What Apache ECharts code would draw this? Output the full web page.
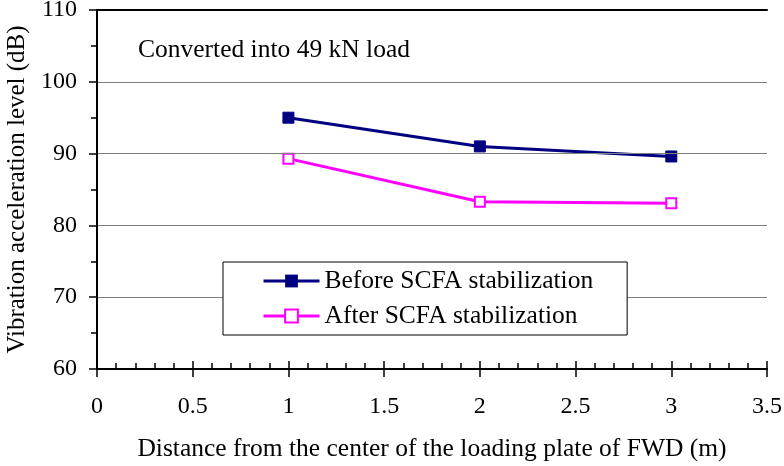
<!DOCTYPE html>
<html>
<head>
<meta charset="utf-8">
<script src="https://cdn.jsdelivr.net/npm/echarts@6/dist/echarts.min.js"></script>
<style>
	html, body { margin: 0; padding: 0; background: #fff; }
	#chart { width: 784px; height: 466px; }
</style>
</head>
<body>
<div id="chart"></div>
<script>
// distance from loading plate centre (m)
const distances = [1, 2, 3];
const beforeLevels = [95.0, 91.0, 89.6];
const afterLevels = [89.3, 83.3, 83.1];
const seriesNames = ['Before SCFA stabilization', 'After SCFA stabilization'];
const xTicks = {min: 0, max: 3.5, interval: 0.5};
const yTicks = {min: 60, max: 110, interval: 10};

const font = '"Liberation Serif", "Times New Roman", serif';
const tickSize = 24;
const textSize = 25.5;

const pairs = vals => distances.map((d, i) => [d, vals[i]]);

const lineOnly = (pos) => ({
	type: 'value', position: pos, ...(pos === 'top' || pos === 'bottom' ? xTicks : yTicks),
	z: 5,
	axisLine: {show: true, lineStyle: {color: '#000', width: 2}},
	axisTick: {show: false}, axisLabel: {show: false}, splitLine: {show: false},
});

const chart = echarts.init(document.getElementById('chart'), null, {renderer: 'canvas'});
chart.setOption({
	animation: false,
	backgroundColor: '#fff',
	textStyle: {fontFamily: font},
	grid: {left: 97, right: 17, top: 10, bottom: 97, containLabel: false, outerBoundsMode: 'none'},
	xAxis: [
		{
			type: 'value', position: 'bottom', ...xTicks,
			z: 4,
			name: 'Distance from the center of the loading plate of FWD (m)',
			nameLocation: 'middle',
			nameGap: 67,
			nameTextStyle: {fontFamily: font, fontSize: textSize, color: '#000'},
			axisLine: {show: true, onZero: false, lineStyle: {color: '#000', width: 2}},
			axisTick: {show: true, inside: false, length: 8, lineStyle: {color: '#000', width: 1.5}},
			axisLabel: {margin: 26, fontFamily: font, fontSize: tickSize, color: '#000'},
			splitLine: {show: false},
		},
		{
			type: 'value', position: 'bottom', ...xTicks,
			z: 4,
			axisLine: {show: false, onZero: false},
			axisTick: {show: true, inside: true, length: 8, lineStyle: {color: '#000', width: 1.5}},
			minorTick: {show: true, splitNumber: 5, length: 6, lineStyle: {color: '#000', width: 1.5}},
			axisLabel: {show: false},
			splitLine: {show: false},
		},
		lineOnly('top'),
	],
	yAxis: [
		{
			type: 'value', position: 'left', ...yTicks,
			z: 4,
			name: 'Vibration acceleration level (dB)',
			nameLocation: 'middle',
			nameGap: 66,
			nameTextStyle: {fontFamily: font, fontSize: 25, color: '#000'},
			axisLine: {show: true, onZero: false, lineStyle: {color: '#000', width: 2}},
			axisTick: {show: true, inside: false, length: 8, lineStyle: {color: '#000', width: 1.5}},
			axisLabel: {margin: 20, fontFamily: font, fontSize: tickSize, color: '#000'},
			splitLine: {show: true, lineStyle: {color: '#808080', width: 1}},
		},
		{
			type: 'value', position: 'left', ...yTicks,
			z: 4,
			axisLine: {show: false, onZero: false},
			axisTick: {show: false},
			minorTick: {show: true, splitNumber: 2, length: 6, lineStyle: {color: '#000', width: 1.5}},
			axisLabel: {show: false},
			splitLine: {show: false},
		},
		lineOnly('right'),
	],
	legend: {
		left: 223, top: 262,
		orient: 'vertical',
		z: 10,
		backgroundColor: '#fff',
		borderColor: '#000',
		borderWidth: 1,
		padding: [6, 34, 6, 39],
		itemWidth: 56,
		itemHeight: 16,
		itemGap: 9,
		lineStyle: {width: 3},
		textStyle: {fontFamily: font, fontSize: textSize, color: '#000'},
		data: seriesNames,
	},
	graphic: [{
		type: 'text', left: 138, top: 37, z: 10,
		style: {text: 'Converted into 49 kN load', fontFamily: font, fontSize: textSize, fill: '#000'},
	}],
	series: [
		{
			name: seriesNames[0], type: 'line', data: pairs(beforeLevels),
			symbol: 'rect', symbolSize: 11,
			lineStyle: {color: '#000080', width: 3},
			itemStyle: {color: '#000080', borderColor: '#000080'},
		},
		{
			name: seriesNames[1], type: 'line', data: pairs(afterLevels),
			symbol: 'rect', symbolSize: 10,
			lineStyle: {color: '#ff00ff', width: 3},
			itemStyle: {color: '#fff', borderColor: '#ff00ff', borderWidth: 2},
		},
	],
});
</script>
</body>
</html>
